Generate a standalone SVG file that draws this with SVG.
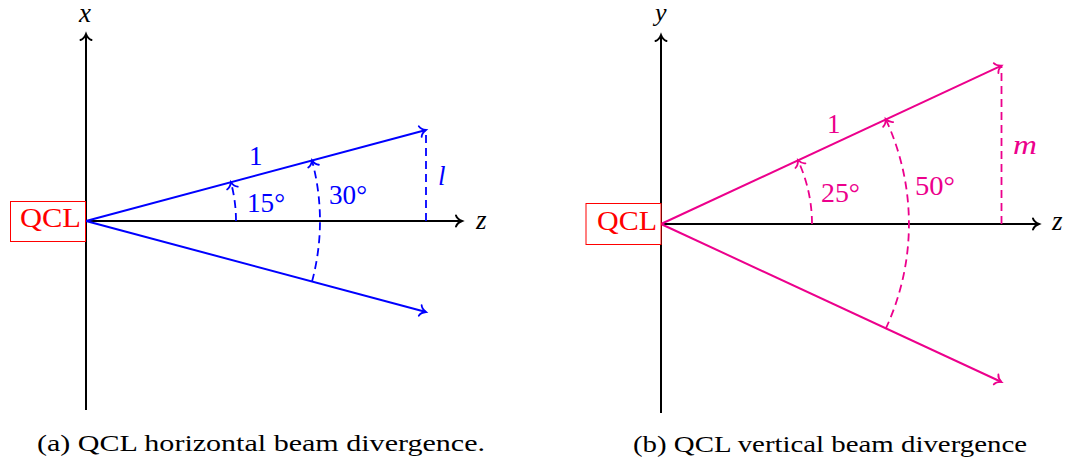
<svg xmlns="http://www.w3.org/2000/svg" width="1070" height="461" viewBox="0 0 1070 461">
<style>
text{font-family:'Liberation Serif','Times New Roman',Times,serif}
.t{font-size:27px}
.i{font-style:italic}
.cap{font-size:24px;fill:#000}
.ax{stroke:#000;stroke-width:2;fill:none}
.blue{stroke:#0000ff;stroke-width:2;fill:none}
.mag{stroke:#ec008c;stroke-width:2;fill:none}
.dash{stroke-dasharray:8 5;stroke-width:1.8}
.qbox{fill:#fff;stroke:#ff0000;stroke-width:1}
</style>
<defs>
<marker id="ak" markerUnits="userSpaceOnUse" markerWidth="16" markerHeight="16" viewBox="-8 -8 16 16" refX="0" refY="0" orient="auto" overflow="visible">
<path d="M-6,-5.5 C-5,-2.5 -2,-0.8 0,0 C-2,0.8 -5,2.5 -6,5.5" fill="none" stroke="#000" stroke-width="2" stroke-linecap="round"/>
</marker>
<marker id="ab" markerUnits="userSpaceOnUse" markerWidth="16" markerHeight="16" viewBox="-8 -8 16 16" refX="0" refY="0" orient="auto" overflow="visible">
<path d="M-6,-5.5 C-5,-2.5 -2,-0.8 0,0 C-2,0.8 -5,2.5 -6,5.5" fill="none" stroke="#0000ff" stroke-width="1.8" stroke-linecap="round"/>
</marker>
<marker id="am" markerUnits="userSpaceOnUse" markerWidth="16" markerHeight="16" viewBox="-8 -8 16 16" refX="0" refY="0" orient="auto" overflow="visible">
<path d="M-6,-5.5 C-5,-2.5 -2,-0.8 0,0 C-2,0.8 -5,2.5 -6,5.5" fill="none" stroke="#ec008c" stroke-width="1.8" stroke-linecap="round"/>
</marker>
</defs>
<rect width="1070" height="461" fill="#fff"/>

<g id="connectors">
<line class="ax" x1="86" y1="410" x2="86" y2="34" marker-end="url(#ak)"/>
<line class="ax" x1="86" y1="221" x2="462" y2="221" marker-end="url(#ak)"/>
<line class="blue" x1="86" y1="221" x2="426" y2="130" marker-end="url(#ab)"/>
<line class="blue" x1="86" y1="221" x2="426" y2="312" marker-end="url(#ab)"/>
<line class="blue dash" x1="426" y1="221" x2="426" y2="130"/>
<path class="blue dash" d="M236,221 A150,150 0 0 0 230.9,182.2" marker-end="url(#ab)"/>
<path class="blue dash" d="M312,281.6 A234,234 0 0 0 312,160.4" marker-end="url(#ab)"/>
<line class="ax" x1="661" y1="413" x2="661" y2="35" marker-end="url(#ak)"/>
<line class="ax" x1="661" y1="224" x2="1039" y2="224" marker-end="url(#ak)"/>
<line class="mag" x1="661" y1="224" x2="1001.5" y2="65.7" marker-end="url(#am)"/>
<line class="mag" x1="661" y1="224" x2="1001.5" y2="382" marker-end="url(#am)"/>
<line class="mag dash" x1="1001.5" y1="224" x2="1001.5" y2="66"/>
<path class="mag dash" d="M812,224 A151,151 0 0 0 797.9,160.2" marker-end="url(#am)"/>
<path class="mag dash" d="M885.6,329 A248,248 0 0 0 885.6,119" marker-end="url(#am)"/>
</g>

<g id="qcl-a">
<rect class="qbox" x="10.5" y="201.5" width="75" height="40"/>
<text class="t" x="20" y="227" fill="#ff0000" textLength="61" lengthAdjust="spacingAndGlyphs">QCL</text>
</g>
<g id="qcl-b">
<rect class="qbox" x="586" y="203.5" width="75" height="41"/>
<text class="t" x="597" y="230" fill="#ff0000" textLength="60" lengthAdjust="spacingAndGlyphs">QCL</text>
</g>

<g id="labels-a">
<text class="t i" x="79" y="22">x</text>
<text class="t i" x="476" y="229">z</text>
<text class="t" x="249" y="165" fill="#0000ff">1</text>
<text class="t" x="247" y="212" fill="#0000ff" textLength="38" lengthAdjust="spacingAndGlyphs">15°</text>
<text class="t" x="329" y="204" fill="#0000ff" textLength="38" lengthAdjust="spacingAndGlyphs">30°</text>
<text class="t i" x="438" y="185" fill="#0000ff">l</text>
</g>
<g id="labels-b">
<text class="t i" x="655" y="21" style="font-size:26px">y</text>
<text class="t i" x="1052" y="230">z</text>
<text class="t" x="827" y="133" fill="#ec008c">1</text>
<text class="t" x="821" y="202" fill="#ec008c" textLength="39" lengthAdjust="spacingAndGlyphs">25°</text>
<text class="t" x="915" y="195" fill="#ec008c" textLength="40" lengthAdjust="spacingAndGlyphs">50°</text>
<text class="t i" x="1013" y="154" fill="#ec008c" textLength="24" lengthAdjust="spacingAndGlyphs">m</text>
</g>

<g id="captions">
<text class="cap" x="37" y="451" textLength="448" lengthAdjust="spacingAndGlyphs">(a) QCL horizontal beam divergence.</text>
<text class="cap" x="633" y="452" textLength="394" lengthAdjust="spacingAndGlyphs">(b) QCL vertical beam divergence</text>
</g>
</svg>
